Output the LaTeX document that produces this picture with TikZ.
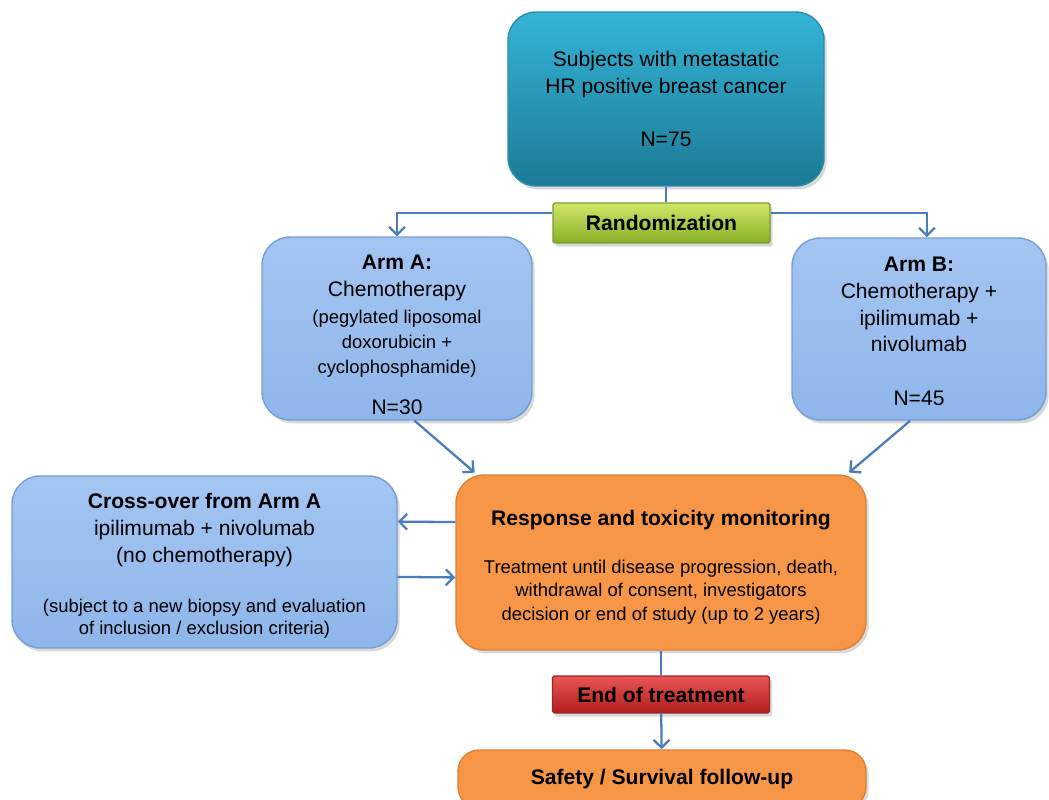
\documentclass[tikz,border=0pt]{standalone}
\usepackage{fontspec}
\setmainfont{Liberation Sans}
\usetikzlibrary{positioning,arrows.meta,shadows}

\definecolor{tealtop}{RGB}{52,180,214}
\definecolor{tealbot}{RGB}{28,122,150}
\definecolor{tealline}{RGB}{40,140,170}
\definecolor{armtop}{RGB}{164,197,242}
\definecolor{armbot}{RGB}{142,182,234}
\definecolor{armline}{RGB}{118,158,212}
\definecolor{orangefill}{RGB}{247,150,70}
\definecolor{orangeline}{RGB}{222,128,52}
\definecolor{randtop}{RGB}{208,230,104}
\definecolor{randbot}{RGB}{136,176,38}
\definecolor{randline}{RGB}{120,155,50}
\definecolor{eottop}{RGB}{234,84,84}
\definecolor{eotbot}{RGB}{176,30,30}
\definecolor{eotline}{RGB}{150,40,40}
\definecolor{arrowblue}{RGB}{74,126,187}

\newcommand{\smalltxt}[1]{{\fontsize{10.5}{13.3}\selectfont #1}}

\begin{document}
\begin{tikzpicture}[
    x=0.02cm, y=-0.02cm,
    font=\fontsize{12}{15.3}\selectfont,
    box/.style={rectangle, draw, line width=0.8pt, rounded corners=16pt, align=center, inner sep=0pt,
        drop shadow={opacity=0.3, shadow xshift=1.5pt, shadow yshift=-2pt}},
    armbox/.style={box, draw=armline, top color=armtop, bottom color=armbot},
    orangebox/.style={box, draw=orangeline, fill=orangefill},
    bar/.style={box, rounded corners=1pt, font=\fontsize{12}{15.3}\selectfont\bfseries},
    link/.style={draw=arrowblue, line width=1.3pt},
    arrow/.style={link, -{Straight Barb[length=4.5pt, width=9pt, line width=1.3pt]}}
]
\useasboundingbox (0,0) rectangle (1049,800);

\node[box, draw=tealline, top color=tealtop, bottom color=tealbot, minimum width=6.32cm, minimum height=3.48cm] (subj) at (666,99)
    {Subjects with metastatic\\ HR positive breast cancer\\[\baselineskip] N=75};
\node[bar, draw=randline, top color=randtop, bottom color=randbot, minimum width=4.34cm, minimum height=0.8cm] (rand) at (661.5,223) {Randomization};

\node[armbox, minimum width=5.4cm, minimum height=3.66cm] (armA) at (397,328.5)
    {\rule{0pt}{15.5pt}\textbf{Arm A:}\\ Chemotherapy\\ \smalltxt{(pegylated liposomal}\\[-1pt] \smalltxt{doxorubicin +}\\[-1pt] \smalltxt{cyclophosphamide)}\\[8pt] N=30};
\node[armbox, minimum width=5.08cm, minimum height=3.64cm] (armB) at (919,329)
    {\rule{0pt}{11pt}\textbf{Arm B:}\\ Chemotherapy +\\ ipilimumab +\\ nivolumab\\[\baselineskip] N=45};

\node[orangebox, minimum width=8.2cm, minimum height=3.5cm] (resp) at (661,562.5)
    {\rule{0pt}{14pt}\textbf{Response and toxicity monitoring}\\[12pt] \smalltxt{Treatment until disease progression, death,}\\[-2pt] \smalltxt{withdrawal of consent, investigators}\\[-2pt] \smalltxt{decision or end of study (up to 2 years)}};
\node[armbox, minimum width=7.7cm, minimum height=3.44cm] (cross) at (204.5,562)
    {\rule{0pt}{13pt}\textbf{Cross-over from Arm A}\\ ipilimumab + nivolumab\\ (no chemotherapy)\\[13pt] \smalltxt{(subject to a new biopsy and evaluation}\\[-2.5pt] \smalltxt{of inclusion / exclusion criteria)}};

\node[bar, draw=eotline, top color=eottop, bottom color=eotbot, minimum width=4.34cm, minimum height=0.74cm] (eot) at (661,694.5) {End of treatment};
\node[orangebox, rounded corners=12pt, minimum width=8.16cm, minimum height=1.16cm, font=\fontsize{12}{15.3}\selectfont\bfseries] (safety) at (662,779) {Safety / Survival follow-up};

% connectors
\draw[link] (subj) -- (subj |- rand.north);
\draw[arrow] ([yshift=5.5pt]rand.west) -| (armA.north);
\draw[arrow] ([yshift=5.5pt]rand.east) -| ([xshift=4.5pt]armB.north);
\draw[arrow] ([xshift=10pt]armA.south) -- ([xshift=11pt,yshift=1pt]resp.north west);
\draw[arrow] ([xshift=-5pt]armB.south) -- ([xshift=-10pt,yshift=1pt]resp.north east);
\draw[arrow] ([yshift=23pt]resp.west) -- ([yshift=23pt]cross.east);
\draw[arrow] ([yshift=-8.5pt]cross.east) -- ([yshift=-8.5pt]resp.west);
\draw[link] (resp) -- (eot);
\draw[arrow] (eot) -- (safety);

\end{tikzpicture}
\end{document}
